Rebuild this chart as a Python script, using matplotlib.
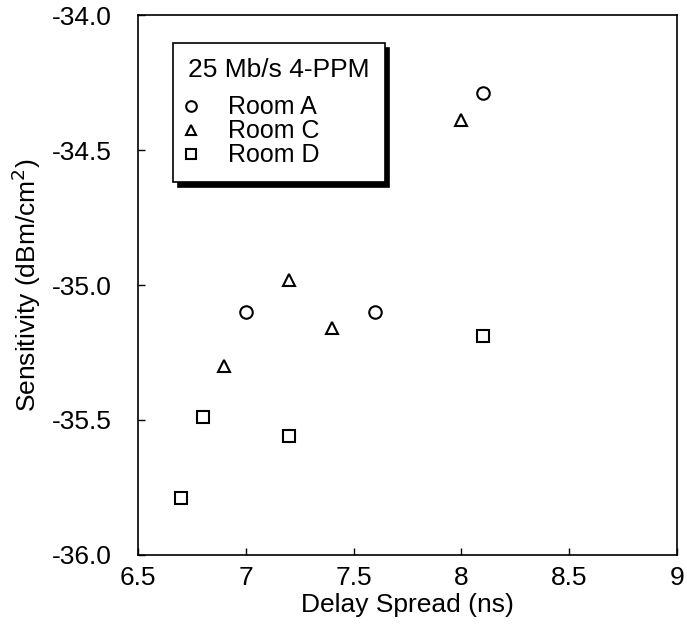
import matplotlib.pyplot as plt

plt.rcParams['font.family'] = ['Liberation Sans', 'DejaVu Sans']

# Sensitivity vs delay spread, 25 Mb/s 4-PPM
room_a_x = [7.0, 7.6, 8.1]
room_a_y = [-35.10, -35.10, -34.29]
room_c_x = [6.9, 7.2, 7.4, 8.0]
room_c_y = [-35.30, -34.98, -35.16, -34.39]
room_d_x = [6.8, 7.2, 6.7, 8.1]
room_d_y = [-35.49, -35.56, -35.79, -35.19]

xticks = [6.5, 7, 7.5, 8, 8.5, 9]
xtick_labels = ['6.5', '7', '7.5', '8', '8.5', '9']
yticks = [-36.0, -35.5, -35.0, -34.5, -34.0]

fig = plt.figure(figsize=(6.87, 6.32), dpi=100)
ax = fig.add_axes([0.201, 0.122, 0.784, 0.854])

mk = dict(linestyle='none', markersize=9, markerfacecolor='none',
          markeredgecolor='black', markeredgewidth=1.5)
ax.plot(room_a_x, room_a_y, marker='o', label='Room A', **mk)
ax.plot(room_c_x, room_c_y, marker='^', label='Room C', **mk)
ax.plot(room_d_x, room_d_y, marker='s', label='Room D', **mk)

ax.set_xlim(6.5, 9)
ax.set_ylim(-36, -34)
ax.set_xticks(xticks)
ax.set_xticklabels(xtick_labels)
ax.set_yticks(yticks)
ax.set_yticklabels([f'{v:.1f}' for v in yticks])
ax.tick_params(direction='in', length=5, width=1, labelsize=19)
ax.tick_params(axis='x', pad=8)
ax.tick_params(axis='y', pad=19)
for s in ax.spines.values():
    s.set_linewidth(1.2)

ax.set_xlabel('Delay Spread (ns)', fontsize=19, labelpad=2)
ax.set_ylabel('Sensitivity (dBm/cm$^2$)', fontsize=19, labelpad=6)

leg = ax.legend(title='25 Mb/s 4-PPM', loc='upper left',
                bbox_to_anchor=(0.065, 0.948), borderaxespad=0,
                fontsize=18, title_fontsize=19, markerscale=0.85,
                handlelength=0.25, handletextpad=1.35, labelspacing=0.0,
                borderpad=0.6, fancybox=False, edgecolor='black',
                framealpha=1,
                shadow={'ox': 3.5, 'oy': -3.5, 'color': 'black', 'alpha': 1})
leg.get_frame().set_linewidth(1.2)
leg._legend_box.align = 'left'
leg._legend_box.sep = 9.5

fig.savefig('out.png', dpi=100)
